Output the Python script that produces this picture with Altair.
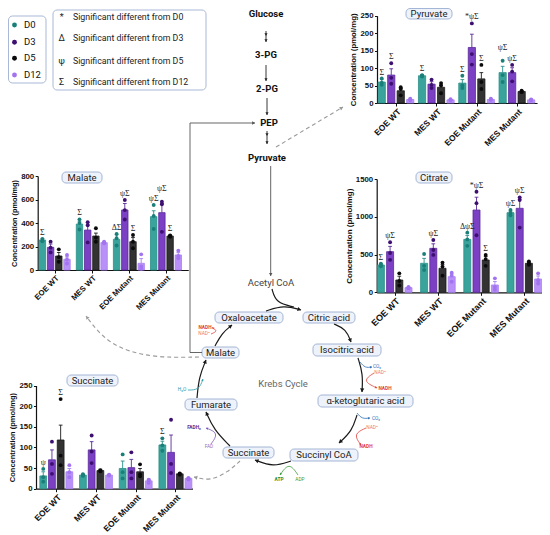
import math
import json
import altair as alt
import pandas as pd

# ---------------- data ----------------
groups = ["EOE WT", "MES WT", "EOE Mutant", "MES Mutant"]
days = ["D0", "D3", "D5", "D12"]

pyruvate_mean = [[60, 80, 35, 10], [78, 54, 45, 9], [57, 159, 69, 10], [87, 87, 33, 9]]
pyruvate_sem = [[8, 18, 6, 1], [2, 7, 6, 1], [10, 38, 18, 1], [18, 14, 2, 1]]
pyruvate_points = [
    [[70, 58, 52], [114, 72, 55], [45, 40, 22], [12, 10, 8]],
    [[80, 78, 76], [67, 52, 43], [57, 50, 28], [11, 9, 8]],
    [[78, 50, 43], [228, 140, 110], [109, 60, 40], [12, 10, 9]],
    [[121, 80, 60], [109, 90, 62], [35, 33, 31], [10, 8, 9]],
]
pyruvate_sig = [("EOE WT", "D0", "Σ"), ("EOE WT", "D3", "Σ"), ("MES WT", "D0", "Σ"),
                ("EOE Mutant", "D0", "Σ"), ("EOE Mutant", "D3", "*ψΣ"), ("EOE Mutant", "D5", "Σ"),
                ("MES Mutant", "D0", "ψΣ"), ("MES Mutant", "D3", "ψΣ")]

malate_mean = [[255, 193, 119, 91], [391, 340, 289, 233], [261, 511, 241, 57], [454, 488, 289, 128]]
malate_sem = [[10, 28, 30, 20], [25, 45, 25, 5], [40, 55, 35, 40], [50, 78, 5, 20]]
malate_points = [
    [[265, 250, 245], [241, 190, 150], [176, 110, 70], [128, 90, 55]],
    [[431, 400, 345], [406, 380, 235], [355, 275, 240], [240, 232, 228]],
    [[306, 270, 208], [596, 510, 430], [298, 240, 185], [133, 30, 10]],
    [[553, 460, 350], [581, 560, 325], [295, 290, 283], [165, 120, 100]],
]
malate_sig = [("EOE WT", "D0", "Σ"), ("MES WT", "D0", "Σ"), ("EOE Mutant", "D0", "ΔΣ"),
              ("EOE Mutant", "D3", "ψΣ"), ("EOE Mutant", "D5", "Σ"), ("MES Mutant", "D0", "ψΣ"),
              ("MES Mutant", "D3", "ψΣ"), ("MES Mutant", "D5", "Σ")]

citrate_mean = [[362, 538, 163, 62], [384, 582, 318, 207], [701, 1089, 428, 97], [1054, 1112, 384, 176]]
citrate_sem = [[15, 70, 50, 8], [65, 60, 50, 35], [50, 170, 45, 45], [20, 120, 12, 40]]
citrate_points = [
    [[380, 360, 345], [662, 520, 430], [251, 150, 90], [70, 60, 55]],
    [[507, 350, 295], [692, 560, 495], [393, 340, 220], [260, 220, 140]],
    [[790, 700, 615], [1332, 1180, 755], [494, 440, 350], [185, 70, 35]],
    [[1090, 1050, 1020], [1257, 1222, 857], [410, 380, 365], [251, 160, 117]],
]
citrate_sig = [("EOE WT", "D0", "Σ"), ("EOE WT", "D3", "ψΣ"), ("MES WT", "D3", "ψΣ"),
               ("EOE Mutant", "D0", "ΔψΣ"), ("EOE Mutant", "D3", "*ψΣ"), ("EOE Mutant", "D5", "Σ"),
               ("MES Mutant", "D0", "ψΣ"), ("MES Mutant", "D3", "ψΣ")]

succinate_mean = [[31, 70, 118, 41], [33, 94, 44, 33], [49, 51, 41, 19], [106, 88, 36, 25]]
succinate_sem = [[10, 24, 36, 8], [2, 20, 3, 1], [18, 20, 8, 4], [9, 42, 2, 2]]
succinate_points = [
    [[48, 28, 17], [114, 60, 36], [217, 80, 57], [57, 40, 28]],
    [[35, 33, 31], [129, 90, 62], [45, 43, 42], [34, 33, 32]],
    [[83, 40, 25], [88, 40, 25], [59, 35, 30], [22, 20, 14]],
    [[122, 105, 92], [167, 60, 38], [37, 35, 34], [26, 24, 23]],
]
succinate_sig = [("EOE WT", "D0", "ψ"), ("EOE WT", "D5", "Σ"), ("MES Mutant", "D0", "Σ")]

sig_symbols = ["*", "Δ", "ψ", "Σ"]
sig_texts = ["Significant different from D0", "Significant different from D3",
             "Significant different from D5", "Significant different from D12"]

# ---------------- styles / layout ----------------
dot_colors = ["#1b7f79", "#3d0f70", "#0a0a0a", "#a274f0"]
bar_fill = ["#3aa39b", "#7b40c4", "#333333", "#b990f7"]
edge_colors = ["#2a9089", "#5a2a9a", "#1a1a1a", "#a780f2"]

W, H = 534, 519
OX, OY = 8, 8
AXF = "Liberation Sans"
DGF = "Roboto"
SIGF = "Liberation Serif"

# c0: page x of first group centre, gstep: px between groups, bstep: px between bars, bw: bar width px
LAYOUT = {
    "Pyruvate": dict(c0=396, gstep=40.3, bstep=9.5, bw=7.2, yaxis=377, d1=3.5,
                     y0=103, ytop=15.7, ymax=250, step=50, xfs=8.5, tfs=7.8),
    "Malate": dict(c0=54.7, gstep=37.1, bstep=8.2, bw=6.4, yaxis=37.7, d1=3.6,
                   y0=270, ytop=176, ymax=800, step=200, xfs=7.8, tfs=7.3),
    "Citrate": dict(c0=394.7, gstep=43.2, bstep=9.2, bw=7.0, yaxis=376.7, d1=3.4,
                    y0=292.3, ytop=179, ymax=1500, step=500, xfs=9, tfs=8),
    "Succinate": dict(c0=56.3, gstep=39.7, bstep=8.7, bw=6.8, yaxis=36, d1=3.43,
                      y0=488.7, ytop=385.5, ymax=250, step=50, xfs=8.5, tfs=7.5),
}
# annotations drawn a little higher so that neighbouring labels do not collide
LIFTED = {("Pyruvate", "MES Mutant", "D0"), ("Malate", "MES Mutant", "D3")}
GROUP_LABEL_EXPR = json.dumps(groups) + "[datum.value]"

leaves = []


def panel(name, means, sems, pts, sig):
    L = LAYOUT[name]
    boff = L["bstep"] / L["gstep"]
    hw = L["bw"] / 2 / L["gstep"]

    def pos(gi, di):
        return gi + (di - 1.5) * boff

    bar_rows, pt_rows = [], []
    for gi, g in enumerate(groups):
        for di, d in enumerate(days):
            p = pos(gi, di)
            bar_rows.append({"group": g, "day": d, "pos": p, "left": p - hw, "right": p + hw,
                             "mean": means[gi][di], "hi": means[gi][di] + sems[gi][di],
                             "top": max(means[gi][di] + sems[gi][di], max(pts[gi][di]))})
            for v in pts[gi][di]:
                pt_rows.append({"group": g, "day": d, "pos": p, "value": v})
    bar_df = pd.DataFrame(bar_rows)
    pt_df = pd.DataFrame(pt_rows)
    info = {(r["group"], r["day"]): r for r in bar_rows}
    sig_df = pd.DataFrame([{"group": g, "day": d, "label": s, "pos": info[(g, d)]["pos"],
                            "top": info[(g, d)]["top"], "lift": (name, g, d) in LIFTED}
                           for g, d, s in sig])

    d0 = (L["yaxis"] - L["c0"]) / L["gstep"]
    xs = alt.Scale(domain=[d0, L["d1"]],
                   range=[L["yaxis"] - OX, L["c0"] + L["d1"] * L["gstep"] - OX], nice=False, zero=False)
    ys = alt.Scale(domain=[0, L["ymax"]], range=[L["y0"] - OY, L["ytop"] - OY], nice=False, zero=True)
    x_axis = alt.Axis(orient="bottom", offset=(L["y0"] - OY) - H, title=None, values=[0, 1, 2, 3],
                      labelExpr=GROUP_LABEL_EXPR, labelAngle=315, labelAlign="right",
                      labelBaseline="top", labelFont=AXF, labelFontWeight="bold",
                      labelFontSize=L["xfs"], labelColor="#111", labelPadding=1, labelFlush=False,
                      labelOverlap=False, tickSize=3, tickColor="#111", tickWidth=1,
                      domainColor="#111", domainWidth=1.2, grid=False)
    y_axis = alt.Axis(orient="left", offset=-(L["yaxis"] - OX), format="d",
                      values=list(range(0, L["ymax"] + 1, L["step"])),
                      title="Concentration (pmol/mg)", titleFont=AXF, titleFontWeight="bold",
                      titleFontSize=L["tfs"], titleColor="#111", titlePadding=2, labelFont=AXF,
                      labelFontWeight="bold", labelFontSize=7.8, labelColor="#111", labelPadding=1.5,
                      tickSize=2.5, tickColor="#111", tickWidth=1, domainColor="#111", domainWidth=1.2,
                      grid=False)

    stroke = alt.Stroke("day:N", sort=days, scale=alt.Scale(domain=days, range=edge_colors), legend=None)
    color = alt.Color("day:N", sort=days, scale=alt.Scale(domain=days, range=dot_colors), legend=None)

    bars = alt.Chart(bar_df).mark_bar(strokeWidth=0.8).encode(
        x=alt.X("left:Q", scale=xs, axis=x_axis), x2="right:Q",
        y=alt.Y("mean:Q", scale=ys, axis=y_axis), y2=alt.datum(0),
        fill=alt.Fill("day:N", sort=days, scale=alt.Scale(domain=days, range=bar_fill), legend=None),
        stroke=stroke)
    err = alt.Chart(bar_df).mark_rule(strokeWidth=0.9).encode(
        x=alt.X("pos:Q", scale=xs, axis=None), y=alt.Y("mean:Q", scale=ys, axis=None), y2="hi:Q",
        stroke=stroke)
    cap = alt.Chart(bar_df).mark_point(shape="stroke", size=14, strokeWidth=0.9, opacity=1).encode(
        x=alt.X("pos:Q", scale=xs, axis=None), y=alt.Y("hi:Q", scale=ys, axis=None), stroke=stroke)
    dots = alt.Chart(pt_df).mark_circle(size=15, opacity=1).encode(
        x=alt.X("pos:Q", scale=xs, axis=None), y=alt.Y("value:Q", scale=ys, axis=None), color=color)
    out = [bars, err, cap, dots]
    for lifted, dy in ((False, -2), (True, -9)):
        sub = sig_df[sig_df["lift"] == lifted].reset_index(drop=True)
        if len(sub):
            out.append(alt.Chart(sub).mark_text(baseline="bottom", dy=dy, fontSize=8, font=SIGF,
                                                color="#222").encode(
                x=alt.X("pos:Q", scale=xs, axis=None), y=alt.Y("top:Q", scale=ys, axis=None),
                text="label:N"))
    return out


# ---------------- diagram (page-pixel layout) ----------------
DXS = alt.Scale(domain=[OX, OX + W], range=[0, W], nice=False, zero=False)
DYS = alt.Scale(domain=[OY, OY + H], range=[0, H], nice=False, zero=False)


def DX(f="x"):
    return alt.X(f + ":Q", scale=DXS, axis=None)


def DY(f="y"):
    return alt.Y(f + ":Q", scale=DYS, axis=None)


def head_row(x1, y1, x2, y2, size):
    dx, dy = x2 - x1, y2 - y1
    n = math.hypot(dx, dy)
    ux, uy = dx / n, dy / n
    r = math.sqrt(size) / 2 * 0.8
    return {"x": x2 - ux * r, "y": y2 - uy * r, "ang": math.degrees(math.atan2(dx, -dy)) % 360}


def arrow_layers(paths, color, width, head=14, dash=None, interp="basis", extra_heads=(), heads=True):
    rows, hrows = [], []
    for i, p in enumerate(paths):
        for j, (x, y) in enumerate(p):
            rows.append({"id": i, "o": j, "x": x, "y": y})
        if heads:
            (x1, y1), (x2, y2) = p[-2], p[-1]
            hrows.append(head_row(x1, y1, x2, y2, head))
    for e in extra_heads:
        hrows.append(head_row(*e, head))
    kw = dict(color=color, strokeWidth=width, interpolate=interp)
    if dash:
        kw["strokeDash"] = dash
    out = [alt.Chart(pd.DataFrame(rows)).mark_line(**kw).encode(
        x=DX(), y=DY(), detail="id:N", order="o:Q")]
    if hrows:
        out.append(alt.Chart(pd.DataFrame(hrows)).mark_point(
            shape="triangle-up", filled=True, color=color, size=head, opacity=1, strokeWidth=0).encode(
            x=DX(), y=DY(), angle=alt.Angle("ang:Q", scale=None)))
    return out


def text_layer(items, size, color, weight="normal", align="center", font=DGF):
    df = pd.DataFrame([{"label": t, "x": x, "y": y} for t, x, y in items])
    return alt.Chart(df).mark_text(fontSize=size, color=color, fontWeight=weight, align=align,
                                   baseline="middle", font=font).encode(x=DX(), y=DY(), text="label:N")


box_layout = [
    ("Oxaloacetate", 215, 283, 312, 323), ("Citric acid", 303, 355, 312, 323),
    ("Isocitric acid", 313, 381, 344, 356), ("α-ketoglutaric acid", 318, 413, 395, 407),
    ("Succinyl CoA", 290, 358, 449, 461), ("Succinate", 223, 274, 447, 458),
    ("Fumarate", 185, 237, 399, 410), ("Malate", 202, 239, 347, 358),
    ("Pyruvate", 406, 452, 8.5, 19), ("Malate", 62, 102, 172, 183),
    ("Citrate", 416, 452, 172, 183), ("Succinate", 67, 118, 375, 386),
]
box_df = pd.DataFrame([{"label": b[0], "x1": b[1], "x2": b[2], "y1": b[3], "y2": b[4],
                        "x": (b[1] + b[2]) / 2, "y": (b[3] + b[4]) / 2} for b in box_layout])

diagram = []
# legend boxes
diagram.append(alt.Chart(pd.DataFrame([{"x1": 53, "x2": 206, "y1": 10, "y2": 90},
                                       {"x1": 8.5, "x2": 46, "y1": 16, "y2": 83}])).mark_rect(
    fill="white", stroke="#a9b8d6", strokeWidth=1, cornerRadius=4).encode(
    x=DX("x1"), x2="x2:Q", y=DY("y1"), y2="y2:Q"))
# day legend (colour scale shared with the panels' dots)
leg_y = [25, 42.3, 58.3, 75]
leg_df = pd.DataFrame([{"day": d, "x": 14.5, "tx": 24, "y": y} for d, y in zip(days, leg_y)])
diagram.append(alt.Chart(leg_df).mark_circle(size=24, opacity=1).encode(
    x=DX(), y=DY(),
    color=alt.Color("day:N", sort=days, scale=alt.Scale(domain=days, range=dot_colors), legend=None)))
diagram.append(alt.Chart(leg_df).mark_text(fontSize=9.5, color="#111", font=DGF, align="left",
                                           baseline="middle").encode(x=DX("tx"), y=DY(), text="day:N"))
sig_y = [16.5, 38.3, 60.7, 81.7]
diagram.append(text_layer([(s, 61.7, y) for s, y in zip(sig_symbols, sig_y)], 9, "#222"))
diagram.append(text_layer([(t, 73, y) for t, y in zip(sig_texts, sig_y)], 8.8, "#222", align="left"))

diagram.append(alt.Chart(box_df).mark_rect(fill="#eef2fb", stroke="#9aaed0", strokeWidth=0.9,
                                           cornerRadius=4).encode(
    x=DX("x1"), x2="x2:Q", y=DY("y1"), y2="y2:Q"))
diagram.append(alt.Chart(box_df).mark_text(fontSize=9.5, color="#222", font=DGF, baseline="middle").encode(
    x=DX(), y=DY(), text="label:N"))

diagram.append(text_layer([("Glucose", 266, 14), ("3-PG", 266, 55), ("2-PG", 267, 89),
                           ("PEP", 269, 123), ("Pyruvate", 267, 158)], 9.5, "#111", weight="bold"))
diagram += arrow_layers([[(266, 31), (266, 42)], [(266, 65), (266, 81)], [(267, 98), (267, 115)],
                         [(267, 131), (267, 144)]], "#222", 0.9, head=10, interp="linear",
                        extra_heads=[(266, 30, 266, 36), (267, 130, 267, 136)])
diagram += arrow_layers([[(270.7, 166), (270.7, 276)]], "#555", 0.9, head=12, interp="linear")
diagram += arrow_layers([[(202, 352.5), (190, 352.5), (190, 123), (255, 123)]], "#555", 0.9, head=12,
                        interp="linear")
diagram.append(text_layer([("Acetyl CoA", 271, 283)], 9.5, "#444"))
diagram.append(text_layer([("Krebs Cycle", 283, 384)], 9.5, "#666"))

diagram += arrow_layers([
    [(266, 311), (284, 305), (301, 310)],
    [(334, 324), (346, 329), (351, 342)],
    [(358, 358), (363, 374), (362, 392)],
    [(357, 415), (352, 431), (339, 443)],
    [(291, 461), (273, 467), (255, 460)],
    [(230, 446), (214, 430), (206, 412)],
    [(197, 398), (199, 377), (206, 360)],
    [(215, 346), (222, 333), (232, 325)],
], "#1a1a1a", 1.2, head=18)
diagram += arrow_layers([[(272, 289), (276, 303), (294, 307)]], "#1a1a1a", 1.2, heads=False)

diagram += arrow_layers([
    [(276, 147), (343, 107)],
    [(199, 357), (150, 358), (108, 345), (86, 316)],
    [(240, 461), (228, 472), (210, 481), (194, 477)],
], "#9a9a9a", 1.1, head=16, dash=[4, 3])

diagram += arrow_layers([[(211, 334), (218, 331), (212, 327.5)],
                         [(374, 373), (362, 381), (377, 388)],
                         [(366, 428), (353, 434), (361, 445)]], "#e0403a", 0.8, head=6)
diagram += arrow_layers([[(360, 362), (365, 368), (372, 367)],
                         [(357, 413), (362, 419), (370, 418)]], "#2f6fb8", 0.8, head=6)
diagram += arrow_layers([[(298, 475), (289, 462), (280, 475)]], "#3a9a3a", 0.8, head=6)
diagram += arrow_layers([[(211, 444), (219, 433), (206, 428)]], "#7a55b8", 0.8, head=6)
diagram += arrow_layers([[(188, 390), (199, 390), (203, 379)]], "#2a9aa8", 0.8, head=6)
diagram.append(text_layer([("NADH", 205, 327.5), ("NADH", 385, 389), ("NADH", 366, 447)], 4.8,
                          "#e0403a", weight="bold"))
diagram.append(text_layer([("NAD⁺", 204, 334.3), ("NAD⁺", 380, 373), ("NAD⁺", 372, 428)], 4.8, "#ee7a72"))
diagram.append(text_layer([("CO₂", 377, 367), ("CO₂", 376, 419)], 4.8, "#2f6fb8"))
diagram.append(text_layer([("ATP", 279, 480)], 4.8, "#2e8b2e", weight="bold"))
diagram.append(text_layer([("ADP", 300, 480)], 4.8, "#3a9a3a"))
diagram.append(text_layer([("FADH₂", 194, 428)], 4.8, "#5c2d91", weight="bold"))
diagram.append(text_layer([("FAD", 209, 447)], 4.8, "#8f74c2"))
diagram.append(text_layer([("H₂O", 182, 390)], 4.8, "#2a9aa8"))

leaves += diagram
leaves += panel("Pyruvate", pyruvate_mean, pyruvate_sem, pyruvate_points, pyruvate_sig)
leaves += panel("Malate", malate_mean, malate_sem, malate_points, malate_sig)
leaves += panel("Citrate", citrate_mean, citrate_sem, citrate_points, citrate_sig)
leaves += panel("Succinate", succinate_mean, succinate_sem, succinate_points, succinate_sig)

chart = alt.layer(*leaves).resolve_scale(
    x="independent", y="independent"
).properties(width=W, height=H, padding=0).configure_view(stroke=None)

chart.save("out.html", embed_options={"renderer": "svg", "actions": False})
